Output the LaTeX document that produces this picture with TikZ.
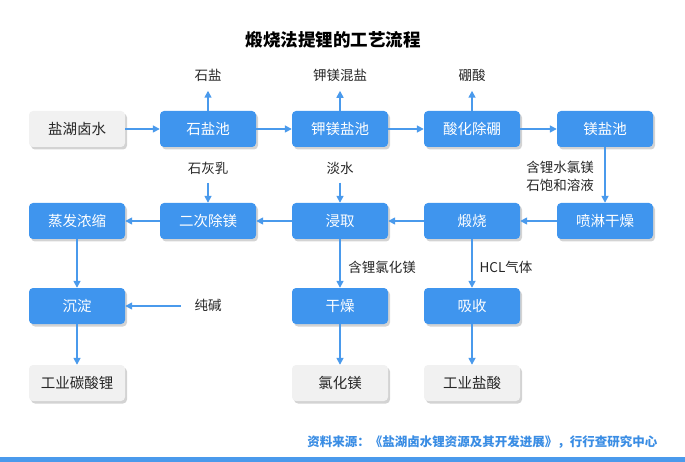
\documentclass[tikz,border=0pt]{standalone}
\usepackage{fontspec}
\setmainfont{Noto Sans CJK SC}
\usetikzlibrary{arrows.meta, shadows}
\definecolor{flowblue}{HTML}{3F95EE}
\definecolor{linkblue}{HTML}{4A9AEC}
\definecolor{prodgrey}{HTML}{F1F1F1}
\definecolor{srcblue}{HTML}{3A8DE4}

\begin{document}
\begin{tikzpicture}[x=1pt, y=-1pt,
        box/.style={rounded corners=4pt, minimum width=96pt, minimum height=36pt, inner sep=0pt,
          font=\fontsize{14.5}{17}\selectfont, drop shadow={shadow xshift=2pt, shadow yshift=-2.5pt, opacity=0.35}},
        stepbox/.style={box, fill=flowblue, text=white},
        prodbox/.style={box, fill=prodgrey, text=black!85},
        lbl/.style={font=\fontsize{13.5}{18}\selectfont, text=black!85},
        flow/.style={-{Triangle[length=7pt, width=7pt]}, draw=linkblue, line width=1.6pt}
      ]
        \useasboundingbox (0,0) rectangle (685,462);
        \node[font=\fontsize{17.5}{20}\selectfont\bfseries] (title) at (333,40) {煅烧法提锂的工艺流程};

        % first row
        \node[prodbox] (brine) at (77,129) {盐湖卤水};
        \node[stepbox] (halite) at (208,129) {石盐池};
        \node[stepbox] (potash) at (340,129) {钾镁盐池};
        \node[stepbox] (boron) at (472,129) {酸化除硼};
        \node[stepbox] (mgpond) at (605,129) {镁盐池};

        % second row
        \node[stepbox] (evap) at (77,221) {蒸发浓缩};
        \node[stepbox] (demg) at (208,221) {二次除镁};
        \node[stepbox] (leach) at (340,221) {浸取};
        \node[stepbox] (calcine) at (472,221) {煅烧};
        \node[stepbox] (spray) at (605,221) {喷淋干燥};

        % third and fourth row
        \node[stepbox] (precip) at (77,306) {沉淀};
        \node[stepbox] (dry) at (340,306) {干燥};
        \node[stepbox] (absorb) at (472,306) {吸收};
        \node[prodbox] (licarb) at (77,383) {工业碳酸锂};
        \node[prodbox] (mgcl) at (340,383) {氯化镁};
        \node[prodbox] (hcl) at (472,383) {工业盐酸};

        % side labels
        \node[lbl] (salt) at (208,75) {石盐};
        \node[lbl] (kmg) at (340,75) {钾镁混盐};
        \node[lbl] (boric) at (472,75) {硼酸};
        \node[lbl] (lime) at (208,168) {石灰乳};
        \node[lbl] (water) at (340,168) {淡水};
        \node[lbl] (soda) at (208,305) {纯碱};
        \node[lbl, align=right] (bisch) at (560,176) {含锂水氯镁\\石饱和溶液};
        \node[lbl] (limg) at (382,267) {含锂氯化镁};
        \node[lbl] (gas) at (506,267) {HCL气体};

        \draw[flow] (brine) -- (halite);
        \draw[flow] (halite) -- (potash);
        \draw[flow] (potash) -- (boron);
        \draw[flow] (boron) -- (mgpond);
        \draw[flow, shorten >=6pt] (halite) -- (salt);
        \draw[flow, shorten >=6pt] (potash) -- (kmg);
        \draw[flow, shorten >=6pt] (boron) -- (boric);
        \draw[flow] (mgpond) -- (spray);
        \draw[flow] (spray) -- (calcine);
        \draw[flow] (calcine) -- (leach);
        \draw[flow] (leach) -- (demg);
        \draw[flow] (demg) -- (evap);
        \draw[flow, shorten <=5pt] (lime) -- (demg);
        \draw[flow, shorten <=5pt] (water) -- (leach);
        \draw[flow] (evap) -- (precip);
        \draw[flow, shorten <=10pt] (soda.west |- precip) -- (precip);
        \draw[flow] (precip) -- (licarb);
        \draw[flow] (leach) -- (dry);
        \draw[flow] (calcine) -- (absorb);
        \draw[flow] (dry) -- (mgcl);
        \draw[flow] (absorb) -- (hcl);

        \node[anchor=east, text=srcblue, font=\fontsize{12.5}{15}\selectfont\bfseries] (source) at (661,442)
          {资料来源：《盐湖卤水锂资源及其开发进展》，行行查研究中心};
        \fill[linkblue] (0,457) rectangle (685,462);
      \end{tikzpicture}
\end{document}
